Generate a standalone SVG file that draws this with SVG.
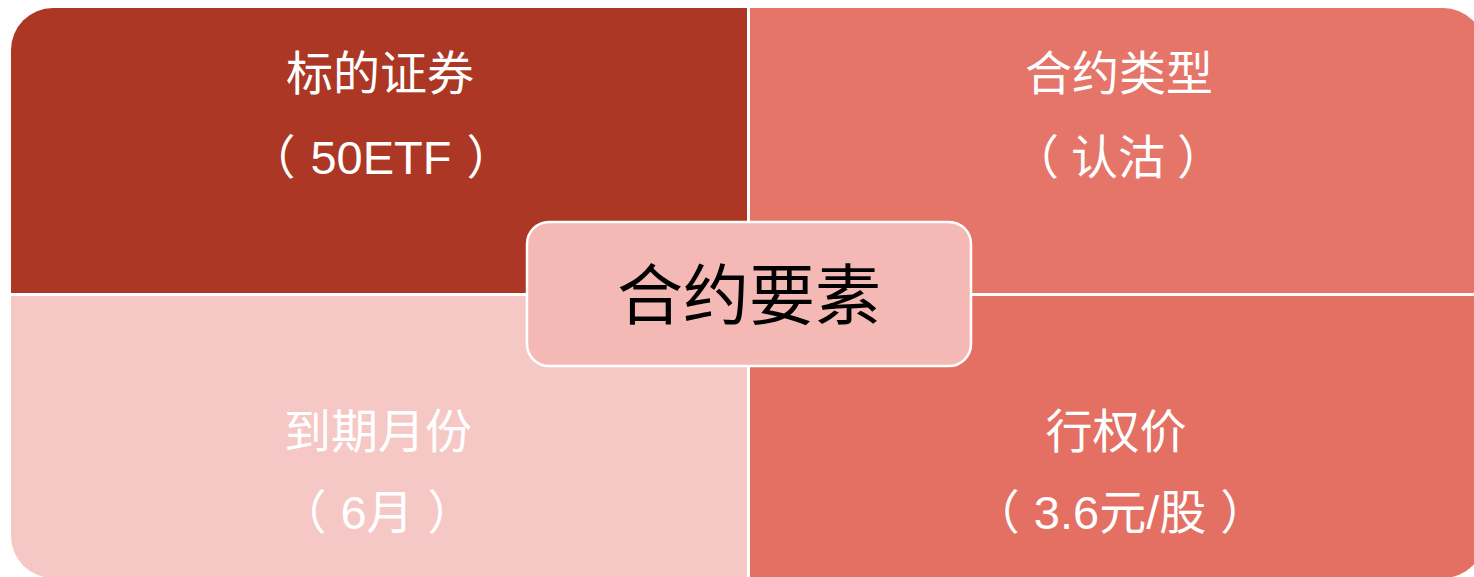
<svg xmlns="http://www.w3.org/2000/svg" width="1474" height="577" viewBox="0 0 1474 577">
<style>
.q text{font-family:"Liberation Sans","Noto Sans CJK SC",sans-serif;font-size:47px;fill:#ffffff;text-anchor:middle}
.c text{font-family:"Liberation Sans","Noto Sans CJK SC",sans-serif;font-size:66px;fill:#000000;text-anchor:middle}
</style>
<rect width="1474" height="577" fill="#ffffff"/>
<g id="q-tl" class="q">
<path d="M11,50 A42,42 0 0 1 53,8 L747,8 L747,293 L11,293 Z" fill="#AB3724"/>
<text x="380" y="90">标的证券</text>
<text x="381" y="174">（<tspan dx="15">50ETF</tspan><tspan dx="15">）</tspan></text>
</g>
<g id="q-tr" class="q">
<path d="M750,8 L1443,8 A42,42 0 0 1 1485,50 L1485,293 L750,293 Z" fill="#E57469"/>
<text x="1119" y="90">合约类型</text>
<text x="1118" y="174">（<tspan dx="12">认沽</tspan><tspan dx="12">）</tspan></text>
</g>
<g id="q-bl" class="q">
<path d="M11,296 L747,296 L747,578 L53,578 A42,42 0 0 1 11,536 Z" fill="#F5C8C5"/>
<text x="378" y="448">到期月份</text>
<text x="377" y="529">（<tspan dx="14">6月</tspan><tspan dx="14">）</tspan></text>
</g>
<g id="q-br" class="q">
<path d="M750,296 L1485,296 L1485,536 A42,42 0 0 1 1443,578 L750,578 Z" fill="#E37063"/>
<text x="1116" y="448">行权价</text>
<text x="1120" y="529">（<tspan dx="14">3.6元/股</tspan><tspan dx="14">）</tspan></text>
</g>
<g id="connectors"></g>
<g id="center" class="c">
<rect x="527" y="222" width="444" height="144" rx="22" ry="22" fill="#F4B9B5" stroke="#ffffff" stroke-width="2.5"/>
<text x="749" y="319">合约要素</text>
</g>
</svg>
